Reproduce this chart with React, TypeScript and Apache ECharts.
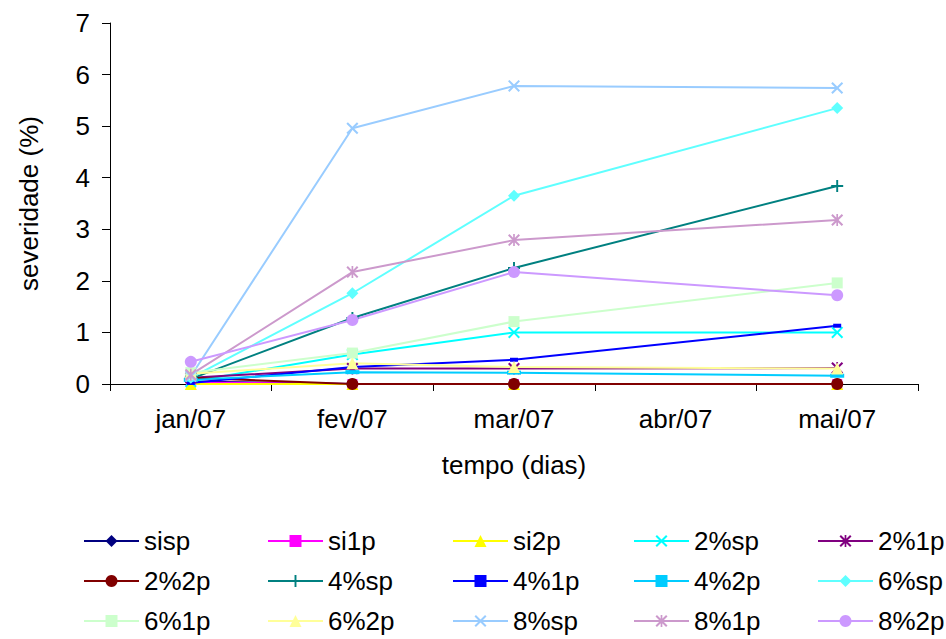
import React, { useEffect, useRef } from "react";
import * as echarts from "echarts";

const categories = ["jan/07", "fev/07", "mar/07", "abr/07", "mai/07"];
const yTicks = [0, 1, 2, 3, 4, 5, 6, 7];

const seriesNames = [
  "sisp", "si1p", "si2p", "2%sp", "2%1p",
  "2%2p", "4%sp", "4%1p", "4%2p", "6%sp",
  "6%1p", "6%2p", "8%sp", "8%1p", "8%2p",
];

const sisp = [0.05, 0, 0, null, 0];
const si1p = [0.03, 0, 0, null, 0];
const si2p = [0, 0, 0, null, 0];
const p2sp = [0.05, 0.57, 1.0, null, 1.0];
const p21p = [0.12, 0.3, 0.3, null, 0.31];
const p22p = [0.12, 0, 0, null, 0];
const p4sp = [0.1, 1.28, 2.25, null, 3.84];
const p41p = [0.02, 0.33, 0.47, null, 1.13];
const p42p = [0.08, 0.23, 0.22, null, 0.16];
const p6sp = [0.12, 1.76, 3.65, null, 5.35];
const p61p = [0.22, 0.6, 1.21, null, 1.96];
const p62p = [0.2, 0.4, 0.33, null, 0.3];
const p8sp = [0.15, 4.96, 5.78, null, 5.74];
const p81p = [0.18, 2.17, 2.79, null, 3.18];
const p82p = [0.43, 1.24, 2.17, null, 1.72];

const seriesData = [
  sisp, si1p, si2p, p2sp, p21p,
  p22p, p4sp, p41p, p42p, p6sp,
  p61p, p62p, p8sp, p81p, p82p,
];

const X_SYM =
  "path://M0,1.2L1.2,0L5,3.8L8.8,0L10,1.2L6.2,5L10,8.8L8.8,10L5,6.2L1.2,10L0,8.8L3.8,5Z";
const PLUS_SYM =
  "path://M4.2,0H5.8V4.2H10V5.8H5.8V10H4.2V5.8H0V4.2H4.2Z";
const STAR_SYM =
  "path://M0,1.2L1.2,0L5,3.8L8.8,0L10,1.2L6.2,5L10,8.8L8.8,10L5,6.2L1.2,10L0,8.8L3.8,5Z M4.3,0L5.7,0L5.7,10L4.3,10Z";

const styles: { color: string; symbol: string; size: number | number[] }[] = [
  { color: "#000080", symbol: "diamond", size: 12 },
  { color: "#FF00FF", symbol: "rect", size: 10 },
  { color: "#FFFF00", symbol: "triangle", size: 12 },
  { color: "#00FFFF", symbol: X_SYM, size: 12 },
  { color: "#800080", symbol: STAR_SYM, size: 12 },
  { color: "#800000", symbol: "circle", size: 12 },
  { color: "#008080", symbol: PLUS_SYM, size: 12 },
  { color: "#0000FF", symbol: "rect", size: [8, 4] },
  { color: "#00CCFF", symbol: "rect", size: [14, 4] },
  { color: "#5FFFFF", symbol: "diamond", size: 12 },
  { color: "#CCFFCC", symbol: "rect", size: 11 },
  { color: "#FFFF99", symbol: "triangle", size: 12 },
  { color: "#99CCFF", symbol: X_SYM, size: 12 },
  { color: "#CC99CC", symbol: STAR_SYM, size: 12 },
  { color: "#CC99FF", symbol: "circle", size: 12 },
];

const legendCols = [83, 267, 452, 633, 817];
const legendRows = [541, 581, 621];

const FONT = "Liberation Sans, Arial, sans-serif";
const FS = 26;

export default function App() {
  const ref = useRef<HTMLDivElement>(null);
  useEffect(() => {
    if (!ref.current) return;
    const chart = echarts.init(ref.current, undefined, { renderer: "svg" });
    const series = seriesNames.map((name, i) => ({
      name,
      type: "line",
      data: seriesData[i],
      connectNulls: true,
      symbol: styles[i].symbol,
      symbolSize: styles[i].size,
      showSymbol: true,
      lineStyle: { color: styles[i].color, width: 2 },
      itemStyle: { color: styles[i].color },
      emphasis: { disabled: true },
    }));
    const legends = seriesNames.map((name, i) => ({
      data: [name],
      left: legendCols[i % 5],
      top: legendRows[Math.floor(i / 5)] - 13,
      padding: 0,
      itemWidth: 55,
      itemHeight: 15,
      selectedMode: false,
      textStyle: { fontSize: FS, color: "#000", fontFamily: FONT, lineHeight: 26 },
    }));
    chart.setOption({
      animation: false,
      backgroundColor: "#fff",
      grid: { left: 110, right: 28, top: 23, bottom: 639 - 384 },
      legend: legends,
      xAxis: {
        type: "category",
        data: categories,
        boundaryGap: true,
        name: "tempo (dias)",
        nameLocation: "middle",
        nameGap: 68,
        nameTextStyle: { fontSize: FS, color: "#000", fontFamily: FONT },
        axisLine: { lineStyle: { color: "#000", width: 1 } },
        axisTick: { show: true, length: 7, lineStyle: { color: "#000" } },
        axisLabel: { fontSize: FS, color: "#000", fontFamily: FONT, margin: 22 },
        splitLine: { show: false },
      },
      yAxis: {
        type: "value",
        min: yTicks[0],
        max: yTicks[yTicks.length - 1],
        interval: 1,
        name: "severidade (%)",
        nameLocation: "middle",
        nameGap: 68,
        nameTextStyle: { fontSize: FS, color: "#000", fontFamily: FONT },
        axisLine: { show: true, lineStyle: { color: "#000", width: 1 } },
        axisTick: { show: true, length: 8, lineStyle: { color: "#000" } },
        axisLabel: { fontSize: FS, color: "#000", fontFamily: FONT, margin: 20 },
        splitLine: { show: false },
      },
      series,
    });
    return () => chart.dispose();
  }, []);
  return (
    <div
      ref={ref}
      style={{ position: "fixed", left: 0, top: 0, width: 946, height: 639, background: "#fff" }}
    />
  );
}
